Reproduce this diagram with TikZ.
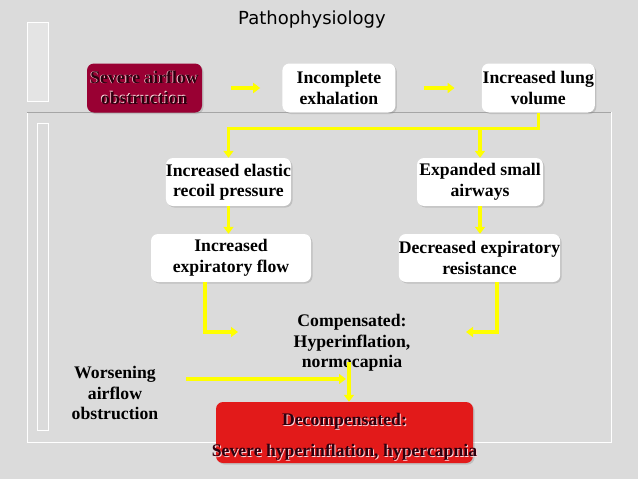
\documentclass[tikz,border=0pt]{standalone}
\usepackage{fontspec}
\setmainfont{Liberation Serif}
\newfontfamily\titlefont{DejaVu Sans}
\usetikzlibrary{positioning,arrows.meta,shadows}
\definecolor{marble}{RGB}{219,219,219}
\definecolor{slideyellow}{RGB}{255,255,0}
\definecolor{winered}{RGB}{153,0,51}
\definecolor{alarmred}{RGB}{226,26,26}
\definecolor{framegray}{RGB}{165,165,165}
\definecolor{inkdark}{RGB}{45,0,15}
\definecolor{glowpink}{RGB}{255,215,220}

\begin{document}
\begin{tikzpicture}[
    x=1pt, y=-1pt,
    font=\fontsize{17.7}{20.5}\selectfont\bfseries,
    box/.style={rounded corners=7pt, fill=white, align=center, inner xsep=0pt, minimum height=48pt,
                drop shadow={shadow xshift=1.5pt, shadow yshift=-1.5pt, opacity=0.3}},
    txt/.style={align=center, inner sep=0pt},
    glow/.style={txt, text=glowpink},
    ink/.style={txt, text=inkdark},
    arr/.style={-{Triangle[length=7pt,width=10pt]}, line width=3.5pt, draw=slideyellow},
    frame/.style={draw=white, line width=0.8pt}
]
% slide background
\fill[marble] (0,0) rectangle (638,479);
\useasboundingbox (0,0) rectangle (638,479);
\draw[frame, fill=white, fill opacity=0.25] (27,22) rectangle (48,101);
\draw[frame] (27,112) rectangle (611,442);
\draw[framegray, line width=0.8pt] (27,112) -- (611,112);
\draw[frame] (37,123) rectangle (48,430);

\node[font=\titlefont\fontsize{18}{20}\selectfont] (title) at (312,20) {Pathophysiology};

% top row
\node[box, fill=winered, minimum width=115pt, minimum height=49pt] (sev) at (144.5,88) {};
\node[glow] (sevglow) at ([shift={(-0.8pt,0.8pt)}]sev.center) {Severe airflow\\obstruction};
\node[ink] (sevtxt) at (sev.center) {Severe airflow\\obstruction};
\node[box, minimum width=113pt, minimum height=49pt, right=80pt of sev] (inc) {Incomplete\\exhalation};
\node[box, minimum width=113pt, minimum height=49pt, right=86pt of inc] (lung) {Increased lung\\volume};

% two branches
\node[box, minimum width=125pt] (elastic) at (228.5,182) {Increased elastic\\recoil pressure};
\node[box, minimum width=126pt] (expanded) at (480,182) {Expanded small\\airways};
\node[box, minimum width=160pt] (flow) at (231,258) {Increased\\expiratory flow};
\node[box, minimum width=157pt] (resist) at (479.5,258) {Decreased expiratory\\resistance};

\node[txt] (comp) at (352,343) {Compensated:\\Hyperinflation,\\normocapnia};
\node[txt] (worse) at (115,393) {Worsening\\airflow\\obstruction};

\node[box, fill=alarmred, minimum width=257pt, minimum height=61pt] (decomp) at (344.5,432.5) {};
\node[glow] (decompglow) at ([shift={(1pt,-5.5pt)}]decomp.center) {Decompensated:\\[11pt]Severe hyperinflation, hypercapnia};
\node[ink] (decomptxt) at ([yshift=-4.5pt]decomp.center) {Decompensated:\\[11pt]Severe hyperinflation, hypercapnia};

\coordinate (split) at ([yshift=-16pt]lung.south);
\coordinate (mergeL) at (238,332);
\coordinate (mergeR) at (466,332);
\coordinate (worseEnd) at (346,379);
\coordinate (compDrop) at (349,362);

\draw[arr, shorten <=29pt, shorten >=22pt] (sev) -- (inc);
\draw[arr, shorten <=28pt, shorten >=27pt] (inc) -- (lung);
\draw[arr] (lung.south) -- (split) -| (elastic.north);
\draw[arr] (split -| expanded.north) -- (expanded.north);
\draw[arr] (elastic.south) -- (elastic.south |- flow.north);
\draw[arr] (expanded.south) -- (expanded.south |- resist.north);
\draw[arr] ([xshift=-26pt]flow.south) |- (mergeL);
\draw[arr] ([xshift=17.5pt]resist.south) |- (mergeR);
\draw[arr, shorten <=28pt] (worse.east |- worseEnd) -- (worseEnd);
\draw[arr] (compDrop) -- (compDrop |- decomp.north);
\end{tikzpicture}
\end{document}
